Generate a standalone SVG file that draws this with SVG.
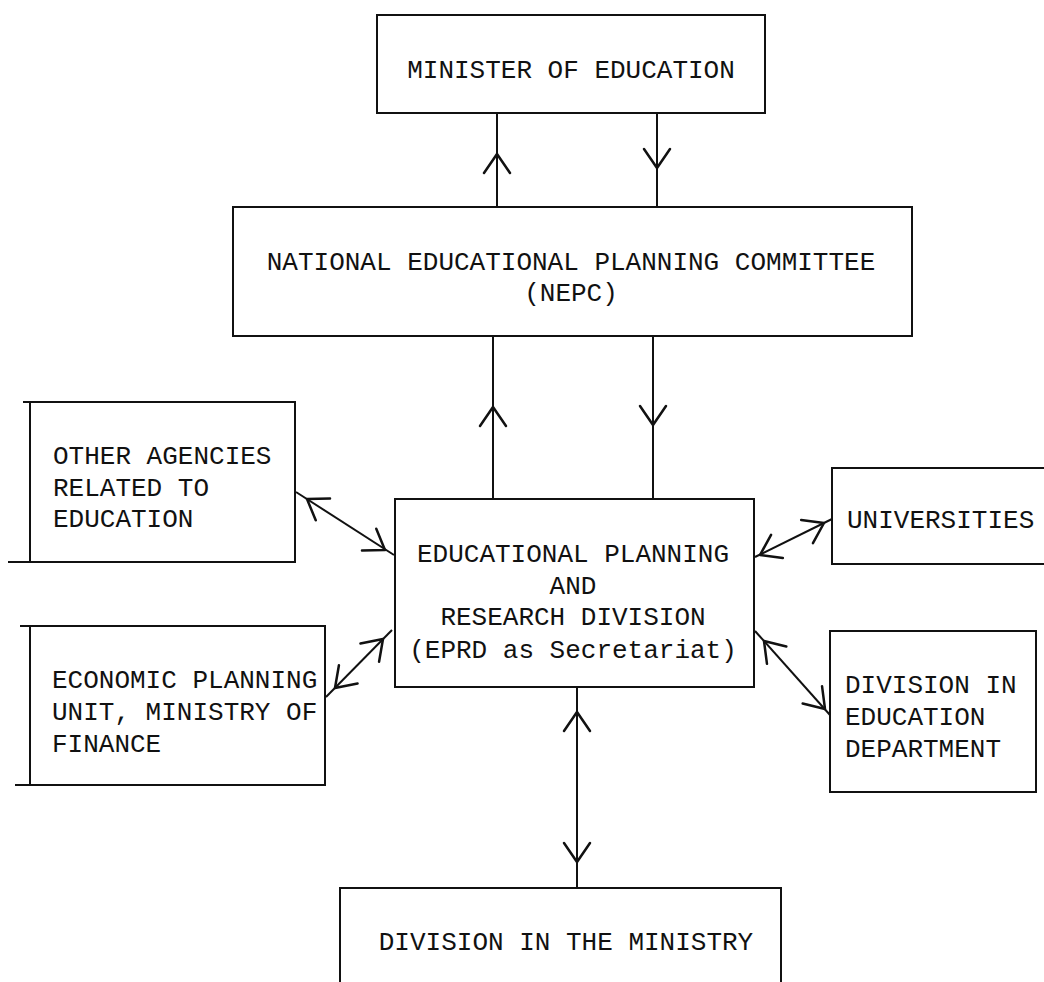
<svg xmlns="http://www.w3.org/2000/svg" xmlns:xlink="http://www.w3.org/1999/xlink" width="1044" height="982" viewBox="0 0 1044 982">
<style>
.box{fill:none;stroke:#111;stroke-width:2}
.ln{fill:none;stroke:#111;stroke-width:2}
.t{font-family:"Liberation Mono","DejaVu Sans Mono",monospace;font-size:26px;fill:#111}
.c{text-anchor:middle}
</style>
<defs>
<path id="chev" d="M-13,19 L0,0 L13,19" fill="none" stroke="#111" stroke-width="2.5" stroke-linecap="round" stroke-linejoin="round"/>
</defs>
<rect width="1044" height="982" fill="#fff"/>

<g id="minister">
<rect class="box" x="377" y="15" width="388" height="98"/>
<text class="t c" x="571" y="78">MINISTER OF EDUCATION</text>
</g>

<g id="nepc">
<rect class="box" x="233" y="207" width="679" height="129"/>
<text class="t c" x="571" y="270">NATIONAL EDUCATIONAL PLANNING COMMITTEE</text>
<text class="t c" x="571" y="301">(NEPC)</text>
</g>

<g id="other-agencies">
<rect class="box" x="30" y="402" width="265" height="160"/>
<line class="ln" x1="8" y1="562" x2="30" y2="562"/>
<line class="ln" x1="23" y1="402" x2="30" y2="402"/>
<text class="t" x="53" y="464">OTHER AGENCIES</text>
<text class="t" x="53" y="496">RELATED TO</text>
<text class="t" x="53" y="527">EDUCATION</text>
</g>

<g id="eprd">
<rect class="box" x="395" y="499" width="359" height="188"/>
<text class="t c" x="573" y="562">EDUCATIONAL PLANNING</text>
<text class="t c" x="573" y="594">AND</text>
<text class="t c" x="573" y="625">RESEARCH DIVISION</text>
<text class="t c" x="573" y="658">(EPRD as Secretariat)</text>
</g>

<g id="universities">
<rect class="box" x="832" y="468" width="230" height="96"/>
<text class="t" x="847" y="528">UNIVERSITIES</text>
</g>

<g id="economic-planning">
<rect class="box" x="30" y="626" width="295" height="159"/>
<line class="ln" x1="20" y1="626" x2="30" y2="626"/>
<line class="ln" x1="15" y1="785" x2="30" y2="785"/>
<text class="t" x="52" y="688">ECONOMIC PLANNING</text>
<text class="t" x="52" y="720">UNIT, MINISTRY OF</text>
<text class="t" x="52" y="752">FINANCE</text>
</g>

<g id="division-education-department">
<rect class="box" x="830" y="631" width="206" height="161"/>
<text class="t" x="845" y="693">DIVISION IN</text>
<text class="t" x="845" y="725">EDUCATION</text>
<text class="t" x="845" y="757">DEPARTMENT</text>
</g>

<g id="division-ministry">
<rect class="box" x="340" y="888" width="441" height="110"/>
<text class="t c" x="566" y="950">DIVISION IN THE MINISTRY</text>
</g>

<g id="connectors">
<line class="ln" x1="497" y1="113" x2="497" y2="207"/>
<use xlink:href="#chev" href="#chev" transform="translate(497,154)"/>
<line class="ln" x1="657" y1="113" x2="657" y2="207"/>
<use xlink:href="#chev" href="#chev" transform="translate(657,168) rotate(180)"/>

<line class="ln" x1="493" y1="336" x2="493" y2="499"/>
<use xlink:href="#chev" href="#chev" transform="translate(493,407)"/>
<line class="ln" x1="653" y1="336" x2="653" y2="499"/>
<use xlink:href="#chev" href="#chev" transform="translate(653,425) rotate(180)"/>

<line class="ln" x1="577" y1="687" x2="577" y2="888"/>
<use xlink:href="#chev" href="#chev" transform="translate(577,712)"/>
<use xlink:href="#chev" href="#chev" transform="translate(577,862) rotate(180)"/>

<line class="ln" x1="296" y1="492" x2="394" y2="555"/>
<use xlink:href="#chev" href="#chev" transform="translate(307,499) rotate(-56.7)"/>
<use xlink:href="#chev" href="#chev" transform="translate(385,550) rotate(123.3)"/>

<line class="ln" x1="326" y1="697" x2="392" y2="630"/>
<use xlink:href="#chev" href="#chev" transform="translate(383,639) rotate(44.2)"/>
<use xlink:href="#chev" href="#chev" transform="translate(335,688) rotate(224.2)"/>

<line class="ln" x1="832" y1="519" x2="755" y2="557"/>
<use xlink:href="#chev" href="#chev" transform="translate(824,523) rotate(63.1)"/>
<use xlink:href="#chev" href="#chev" transform="translate(760,555) rotate(243.1)"/>

<line class="ln" x1="755" y1="631" x2="830" y2="715"/>
<use xlink:href="#chev" href="#chev" transform="translate(764,641) rotate(-41.8)"/>
<use xlink:href="#chev" href="#chev" transform="translate(825,709) rotate(138.2)"/>
</g>
</svg>
